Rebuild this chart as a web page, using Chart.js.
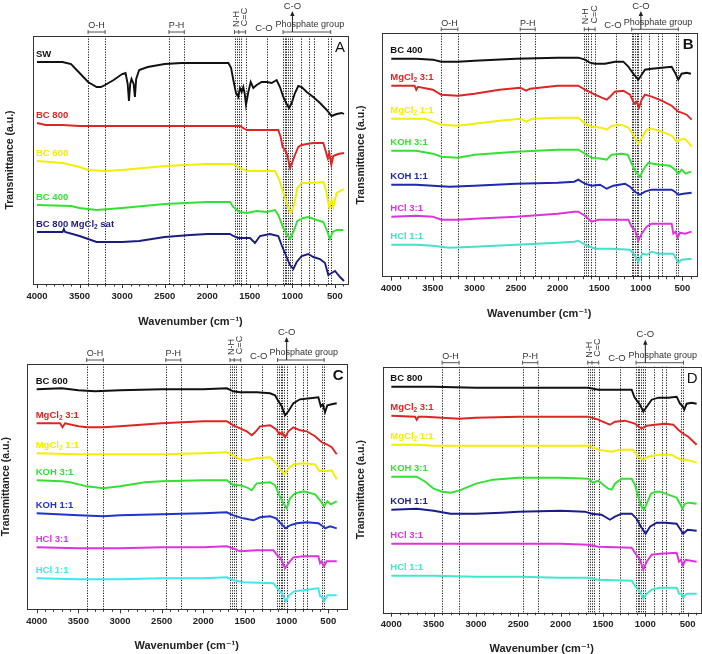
<!DOCTYPE html>
<html>
<head>
<meta charset="utf-8">
<script src="https://cdn.jsdelivr.net/npm/chart.js@4.4.1/dist/chart.umd.min.js"></script>
<style>
  html, body { margin: 0; padding: 0; background: #fff; overflow: hidden; }
  body { width: 702px; height: 654px; position: relative; }
  canvas { position: absolute; }
</style>
</head>
<body>
<canvas id="painel_a"></canvas>
<canvas id="painel_b"></canvas>
<canvas id="painel_c"></canvas>
<canvas id="painel_d"></canvas>
<script>
// ticks do eixo x (numero de onda, cm-1)
const ticksMaiores = [4000, 3500, 3000, 2500, 2000, 1500, 1000, 500];
const ticksMenores = [];
for (let v = 4000; v >= 400; v -= 100) ticksMenores.push(v);

// linhas pontilhadas verticais das bandas
const linhasBandas = [3400, 3200, 2450, 2270, 1680, 1655, 1630, 1605, 1550, 1300,
    1110, 1090, 1070, 1050, 1030, 1000, 900, 800, 750, 580, 550];

// painel A
const nomesA = ['SW', 'BC 800', 'BC 600', 'BC 400', 'BC 800 MgCl₂ sat'];
const aSW = [[4000,222],[3700,222],[3600,220],[3500,211],[3400,202],[3300,197],[3250,197],[3200,199],[3100,204],[3000,210],[2960,211],[2935,200],[2920,183],[2905,200],[2890,205],[2865,200],[2850,187],[2835,205],[2800,214],[2700,217],[2500,220],[2300,221],[1800,221],[1752,221],[1720,216],[1694,204],[1663,191],[1636,187],[1616,196],[1596,192],[1577,197],[1560,190],[1545,179],[1518,192],[1490,202],[1459,196],[1420,199],[1361,202],[1302,202],[1243,201],[1185,204],[1146,197],[1107,187],[1067,180],[1040,176],[1008,181],[970,191],[931,198],[891,197],[832,192],[755,187],[676,181],[597,174],[539,168],[480,170],[421,171],[394,170]];
const aBC800 = [[4000,161],[3900,159],[3700,159],[3500,158],[3000,158],[2500,158],[2000,158],[1700,158],[1616,158],[1560,155],[1537,154],[1400,154],[1166,154],[1138,147],[1115,137],[1087,134],[1060,129],[1028,116],[1005,121],[970,129],[931,137],[891,139],[832,140],[755,141],[637,141],[606,132],[586,126],[567,131],[543,119],[520,128],[461,130],[394,131]];
const aBC600 = [[4000,123],[3700,121],[3500,117],[3400,114],[3200,113],[3000,114],[2500,118],[2000,120],[1694,120],[1616,116],[1537,113],[1205,113],[1154,104],[1107,91],[1060,79],[1020,71],[981,79],[942,96],[891,101],[793,101],[637,102],[606,94],[567,76],[539,84],[520,77],[480,91],[394,95]];
const aBC400 = [[4000,79],[3600,78],[3500,76],[3300,74],[3000,76],[2500,80],[2000,82],[1733,82],[1694,77],[1616,72],[1537,71],[1420,73],[1302,72],[1205,74],[1166,69],[1107,56],[1060,49],[1028,45],[989,52],[942,63],[872,66],[813,67],[715,64],[637,62],[597,54],[559,45],[527,52],[480,54],[402,54]];
const aMgSat = [[4000,52],[3700,52],[3685,55],[3670,52],[3500,48],[3300,42],[3000,42],[2800,43],[2500,47],[2200,49],[2000,50],[1733,50],[1694,48],[1636,46],[1498,46],[1440,41],[1381,48],[1264,50],[1166,48],[1127,39],[1088,31],[1028,19],[989,15],[950,22],[891,28],[813,30],[754,27],[676,25],[617,21],[578,9],[539,11],[500,13],[441,7],[394,3]];

// painel B
const nomesB = ['BC 400', 'MgCl₂ 3:1', 'MgCl₂ 1:1', 'KOH 3:1', 'KOH 1:1', 'HCl 3:1', 'HCl 1:1'];
const bBC400 = [[4000,218],[3700,218],[3500,217],[3400,215],[3200,215],[3000,216],[2500,218],[2000,219],[1752,219],[1672,217],[1612,214],[1552,213],[1431,213],[1311,215],[1211,215],[1151,210],[1091,203],[1031,197],[991,202],[951,207],[870,208],[750,209],[630,210],[590,204],[550,197],[510,203],[450,204],[398,203]];
const bMg31 = [[4000,191],[3720,191],[3700,187],[3680,190],[3500,187],[3400,182],[3200,181],[3000,183],[2700,187],[2450,189],[2380,186],[2330,188],[2000,191],[1752,191],[1672,187],[1552,182],[1471,179],[1411,177],[1371,180],[1311,185],[1211,186],[1131,182],[1079,173],[1051,175],[1023,169],[991,177],[951,182],[870,180],[750,176],[630,171],[550,165],[510,164],[450,162],[390,157]];
const bMg11 = [[4000,158],[3600,158],[3500,155],[3400,152],[3200,151],[3000,153],[2700,156],[2450,158],[2380,155],[2300,158],[2000,159],[1752,159],[1672,153],[1592,150],[1471,149],[1411,147],[1351,151],[1231,152],[1151,149],[1091,142],[1031,133],[983,140],[931,147],[870,148],[750,145],[630,141],[570,135],[530,137],[470,138],[390,130]];
const bKOH31 = [[4000,126],[3700,126],[3500,123],[3400,120],[3200,119],[3000,122],[2500,125],[2000,127],[1752,127],[1672,123],[1592,119],[1471,118],[1411,117],[1351,122],[1231,123],[1159,122],[1111,113],[1063,105],[1011,100],[971,107],[911,114],[851,113],[771,112],[651,111],[590,107],[550,103],[510,107],[462,103],[398,105]];
const bKOH11 = [[4000,92],[3700,92],[3500,91],[3300,90],[3000,91],[2500,93],[2000,94],[1800,95],[1752,97],[1672,93],[1592,91],[1491,92],[1411,88],[1331,91],[1191,93],[1131,90],[1071,85],[1011,82],[951,85],[870,87],[630,87],[590,85],[550,82],[490,83],[390,84]];
const bHCl31 = [[4000,60],[3700,61],[3500,60],[3400,57],[3200,57],[3000,58],[2500,60],[2000,63],[1800,65],[1752,65],[1672,61],[1592,55],[1511,57],[1351,57],[1151,57],[1111,50],[1071,47],[1031,36],[991,43],[931,50],[870,53],[630,53],[610,43],[582,45],[558,39],[530,44],[470,43],[390,45]];
const bHCl11 = [[4000,32],[3700,32],[3500,31],[3300,29],[3000,30],[2500,32],[2000,34],[1800,35],[1752,36],[1672,32],[1552,28],[1351,28],[1131,27],[1079,22],[1031,15],[983,23],[931,22],[870,25],[790,23],[610,23],[550,14],[510,17],[390,18]];

// painel C
const nomesC = ['BC 600', 'MgCl₂ 3:1', 'MgCl₂ 1:1', 'KOH 3:1', 'KOH 1:1', 'HCl 3:1', 'HCl 1:1'];
const cBC600 = [[4000,220],[3700,221],[3500,219],[3300,218],[3000,219],[2500,220],[2000,220],[1719,221],[1640,218],[1560,217],[1359,217],[1199,216],[1139,214],[1099,208],[1059,203],[1019,194],[979,198],[919,206],[839,210],[719,211],[619,212],[590,203],[566,205],[539,197],[511,204],[459,205],[399,206]];
const cMg31 = [[4000,186],[3720,186],[3690,182],[3660,186],[3500,183],[3400,182],[3200,182],[3000,183],[2500,186],[2000,188],[1719,188],[1640,184],[1560,181],[1480,178],[1419,174],[1379,177],[1319,183],[1199,184],[1127,180],[1087,175],[1055,177],[1019,172],[979,178],[919,182],[839,179],[759,178],[659,173],[579,167],[519,165],[459,162],[399,155]];
const cMg11 = [[4000,156],[3500,155],[3300,155],[3000,155],[2500,155],[2000,156],[1719,157],[1640,154],[1560,150],[1480,149],[1359,151],[1199,152],[1127,146],[1079,140],[1027,135],[979,141],[919,145],[799,146],[659,145],[607,138],[566,139],[519,138],[459,139],[399,130]];
const cKOH31 = [[4000,129],[3700,128],[3600,127],[3400,123],[3200,121],[3000,123],[2700,127],[2500,128],[2000,129],[1719,129],[1640,124],[1560,124],[1480,122],[1419,119],[1359,126],[1199,127],[1139,124],[1087,114],[1039,106],[999,101],[959,111],[899,116],[799,118],[659,115],[599,109],[551,103],[511,108],[471,105],[399,108]];
const cKOH11 = [[4000,96],[3500,94],[3200,93],[3000,94],[2500,95],[2000,96],[1719,97],[1640,94],[1520,91],[1399,89],[1319,92],[1199,93],[1127,91],[1071,86],[1011,81],[959,84],[879,86],[759,87],[619,86],[566,83],[539,81],[479,83],[399,81]];
const cHCl31 = [[4000,62],[3500,61],[3000,61],[2500,62],[2000,62],[1719,63],[1640,61],[1560,58],[1359,59],[1159,59],[1111,54],[1071,51],[1019,41],[979,46],[919,52],[799,53],[619,53],[599,46],[579,48],[551,43],[519,48],[399,48]];
const cHCl11 = [[4000,31],[3500,30],[3000,30],[2500,31],[2000,31],[1719,32],[1640,29],[1520,27],[1159,26],[1111,21],[1059,16],[1011,8],[971,14],[911,18],[799,19],[619,21],[599,13],[566,12],[551,8],[511,14],[399,14]];

// painel D
const nomesD = ['BC 800', 'MgCl₂ 3:1', 'MgCl₂ 1:1', 'KOH 3:1', 'KOH 1:1', 'HCl 3:1', 'HCl 1:1'];
const dBC800 = [[4000,226],[3500,226],[3000,225],[2500,225],[2000,225],[1674,225],[1556,223],[1320,223],[1161,223],[1131,216],[1091,211],[1063,208],[1024,201],[984,206],[925,213],[847,215],[729,215],[630,216],[591,209],[564,207],[540,203],[512,209],[453,210],[394,209]];
const dMg31 = [[4000,197],[3720,196],[3700,193],[3680,196],[3600,196],[3400,195],[3200,194],[3000,195],[2500,196],[2000,196],[1674,196],[1556,193],[1477,190],[1418,188],[1359,191],[1241,192],[1123,189],[1044,184],[984,187],[886,188],[768,189],[670,188],[611,183],[552,179],[493,176],[394,168]];
const dMg11 = [[4000,168],[3700,168],[3500,167],[3000,167],[2500,167],[2000,167],[1674,167],[1556,163],[1398,161],[1300,163],[1143,163],[1083,156],[1024,153],[965,156],[847,158],[690,158],[630,155],[571,153],[512,153],[394,150]];
const dKOH31 = [[4000,136],[3700,136],[3600,131],[3500,124],[3400,121],[3300,120],[3200,122],[3000,129],[2800,133],[2500,135],[2000,135],[1674,134],[1615,130],[1556,132],[1497,128],[1438,124],[1398,123],[1359,129],[1280,134],[1162,134],[1123,128],[1083,116],[1044,106],[1016,103],[984,109],[933,119],[886,121],[827,121],[729,118],[630,115],[591,109],[564,104],[532,109],[485,110],[394,109]];
const dKOH11 = [[4000,103],[3700,104],[3500,102],[3300,99],[3000,99],[2700,100],[2500,101],[2000,102],[1713,101],[1635,99],[1517,98],[1418,93],[1359,96],[1280,99],[1162,99],[1103,94],[1052,86],[996,79],[945,86],[866,90],[768,90],[630,89],[591,84],[552,79],[501,83],[394,82]];
const dHCl31 = [[4000,69],[3500,69],[3000,69],[2500,69],[2000,69],[1674,68],[1556,66],[1162,65],[1115,59],[1063,53],[1024,43],[984,51],[925,58],[827,59],[630,60],[602,51],[579,53],[556,47],[524,53],[394,51]];
const dHCl11 = [[4000,37],[3500,37],[3000,36],[2500,36],[2000,35],[1674,35],[1556,33],[1162,32],[1115,26],[1063,21],[1024,14],[984,19],[925,23],[827,25],[630,25],[602,19],[571,19],[552,15],[512,19],[394,19]];

const fonte = "'Liberation Sans', Arial, 'DejaVu Sans', sans-serif";

const paineis = [
    { id: 'painel_a', letra: 'A', negrito: false, series: [aSW, aBC800, aBC600, aBC400, aMgSat], nomes: nomesA,
      cores: ['#111111', '#e02424', '#f2ee00', '#35e035', '#1c1c80'],
      pos: { left: 0, top: 0, w: 351, h: 329 }, pad: { left: 0, right: 3, top: 36, bottom: 0 },
      yw: 33, xh: 45, tickPad: 7, tituloY: 4, xmin: 347, xmax: 4047, ymax: 248 },
    { id: 'painel_b', letra: 'B', negrito: true, series: [bBC400, bMg31, bMg11, bKOH31, bKOH11, bHCl31, bHCl11], nomes: nomesB,
      cores: ['#111111', '#e02424', '#f2ee00', '#35e035', '#1e28b0', '#dd33dd', '#44e0cc'],
      pos: { left: 351, top: 0, w: 351, h: 321 }, pad: { left: 0, right: 5.3, top: 33.3, bottom: 0 },
      yw: 30.7, xh: 44.3, tickPad: 6, tituloY: 4, xmin: 329, xmax: 4115, ymax: 243.4 },
    { id: 'painel_c', letra: 'C', negrito: true, series: [cBC600, cMg31, cMg11, cKOH31, cKOH11, cHCl31, cHCl11], nomes: nomesC,
      cores: ['#111111', '#e02424', '#f2ee00', '#35e035', '#2233cc', '#dd33dd', '#40e6f0'],
      pos: { left: 0, top: 320, w: 351, h: 334 }, pad: { left: 0, right: 4.3, top: 44, bottom: 1.2 },
      yw: 26.7, xh: 43.5, tickPad: 6, tituloY: 0, xmin: 279, xmax: 4120, ymax: 245.3 },
    { id: 'painel_d', letra: 'D', negrito: false, series: [dBC800, dMg31, dMg11, dKOH31, dKOH11, dHCl31, dHCl11], nomes: nomesD,
      cores: ['#111111', '#e02424', '#f2ee00', '#35e035', '#1c1c8c', '#dd33dd', '#40e8c8'],
      pos: { left: 351, top: 320, w: 351, h: 336 }, pad: { left: 0, right: 1.3, top: 46.7, bottom: 0.2 },
      yw: 31.7, xh: 43.1, tickPad: 5.7, tituloY: 4, xmin: 346, xmax: 4102, ymax: 246 }
];

function linha(ctx, x1, y1, x2, y2) {
    ctx.beginPath();
    ctx.moveTo(x1, y1);
    ctx.lineTo(x2, y2);
    ctx.stroke();
}

// texto com subscrito (MgCl2)
function textoRotulo(ctx, texto, x, y, tam) {
    const partes = texto.split('₂');
    let px = x;
    partes.forEach((p, i) => {
        ctx.font = `bold ${tam}px ${fonte}`;
        ctx.fillText(p, px, y);
        px += ctx.measureText(p).width;
        if (i < partes.length - 1) {
            ctx.font = `bold ${tam - 3}px ${fonte}`;
            ctx.fillText('2', px, y + 3);
            px += ctx.measureText('2').width;
        }
    });
}

function colchete(ctx, x1, x2, y) {
    linha(ctx, x1, y, x2, y);
    linha(ctx, x1, y - 2, x1, y + 2);
    linha(ctx, x2, y - 2, x2, y + 2);
}

function pluginAnotacoes(p) {
    return {
        id: 'anotacoes_' + p.letra,
        beforeDatasetsDraw(chart) {
            const { ctx, chartArea: ca, scales: { x } } = chart;
            ctx.save();
            ctx.strokeStyle = '#1a1a1a';
            ctx.lineWidth = 1;
            ctx.setLineDash([1.2, 1.4]);
            linhasBandas.forEach(v => {
                const px = Math.round(x.getPixelForValue(v)) + 0.5;
                linha(ctx, px, ca.top, px, ca.bottom);
            });
            ctx.restore();
        },
        afterDatasetsDraw(chart) {
            const { ctx, chartArea: ca, scales: { x, y } } = chart;
            const fx = v => x.getPixelForValue(v);
            const topo = ca.top;
            ctx.save();

            // caixa do grafico
            ctx.strokeStyle = '#333';
            ctx.lineWidth = 1;
            ctx.strokeRect(Math.round(ca.left) + 0.5, Math.round(ca.top) + 0.5,
                Math.round(ca.right - ca.left), Math.round(ca.bottom - ca.top));

            // marcas do eixo x
            ticksMenores.forEach(v => {
                const px = Math.round(fx(v)) + 0.5;
                const comp = v % 500 === 0 ? 4 : 2.5;
                linha(ctx, px, ca.bottom, px, ca.bottom + comp);
            });

            // grupos funcionais
            ctx.strokeStyle = '#555';
            ctx.fillStyle = '#333';
            ctx.font = `9px ${fonte}`;
            ctx.textAlign = 'center';
            ctx.textBaseline = 'middle';
            const yc = topo - 4;
            colchete(ctx, fx(3400), fx(3200), yc);
            ctx.fillText('O-H', fx(3300), topo - 10);
            colchete(ctx, fx(2450), fx(2270), yc);
            ctx.fillText('P-H', fx(2360), topo - 10);
            colchete(ctx, fx(1680), fx(1550), yc);
            linha(ctx, fx(1630), yc - 2, fx(1630), yc + 2);
            ctx.font = `9.5px ${fonte}`;
            ctx.fillText('C-O', fx(1300) - 3, topo - 8);
            ctx.font = `9px ${fonte}`;
            colchete(ctx, fx(1110), fx(550), yc);
            ctx.fillText('Phosphate group', fx(795), topo - 11);

            // rotulos girados
            [['N-H', 1662, 17], ['C=C', 1560, 19]].forEach(([t, v, dy]) => {
                ctx.save();
                ctx.translate(fx(v), topo - dy);
                ctx.rotate(-Math.PI / 2);
                ctx.fillText(t, 0, 0);
                ctx.restore();
            });

            // seta C-O (o texto nao pode sair do topo da tela)
            const xs = fx(1000);
            const yTexto = Math.max(topo - 32, 6);
            ctx.strokeStyle = '#222';
            linha(ctx, xs, yc, xs, yTexto + 8);
            ctx.fillStyle = '#222';
            ctx.beginPath();
            ctx.moveTo(xs, yTexto + 5);
            ctx.lineTo(xs - 2.2, yTexto + 10);
            ctx.lineTo(xs + 2.2, yTexto + 10);
            ctx.closePath();
            ctx.fill();
            ctx.fillStyle = '#333';
            ctx.font = `9.5px ${fonte}`;
            ctx.fillText('C-O', xs, yTexto);

            // nomes das amostras
            ctx.textAlign = 'left';
            p.series.forEach((s, i) => {
                ctx.fillStyle = p.cores[i];
                const px = fx(s[0][0]) - 1;
                const py = y.getPixelForValue(s[0][1]) - 8;
                textoRotulo(ctx, p.nomes[i], px, py, 9.5);
            });

            // letra do painel
            ctx.fillStyle = '#111';
            ctx.textAlign = 'right';
            ctx.font = `${p.negrito ? 'bold ' : ''}15px ${fonte}`;
            ctx.fillText(p.letra, ca.right - 3, topo + 12);
            ctx.restore();
        }
    };
}

paineis.forEach(p => {
    const tela = document.getElementById(p.id);
    tela.width = p.pos.w;
    tela.height = p.pos.h;
    tela.style.left = p.pos.left + 'px';
    tela.style.top = p.pos.top + 'px';
    tela.style.width = p.pos.w + 'px';
    tela.style.height = p.pos.h + 'px';

    new Chart(tela.getContext('2d'), {
        type: 'line',
        data: {
            datasets: p.series.map((s, i) => ({
                label: p.nomes[i],
                data: s.map(([x, y]) => ({ x, y })),
                borderColor: p.cores[i],
                borderWidth: 1.9,
                pointRadius: 0,
                tension: 0,
                fill: false
            }))
        },
        options: {
            responsive: false,
            animation: false,
            devicePixelRatio: 1,
            layout: { padding: p.pad },
            plugins: {
                legend: { display: false },
                tooltip: { enabled: false }
            },
            scales: {
                x: {
                    type: 'linear',
                    reverse: true,
                    min: p.xmin,
                    max: p.xmax,
                    afterBuildTicks: s => { s.ticks = ticksMaiores.map(v => ({ value: v })); },
                    afterFit: s => { s.height = p.xh; },
                    grid: { display: false, drawTicks: false },
                    border: { display: false },
                    ticks: {
                        autoSkip: false,
                        maxRotation: 0,
                        padding: p.tickPad,
                        color: '#222',
                        font: { family: fonte, size: 9.5, weight: 'bold' },
                        callback: v => String(v)
                    },
                    title: {
                        display: true,
                        text: 'Wavenumber (cm⁻¹)',
                        color: '#222',
                        padding: { top: 0, bottom: 0 },
                        font: { family: fonte, size: 11, weight: 'bold' }
                    }
                },
                y: {
                    min: 0,
                    max: p.ymax,
                    afterFit: s => { s.width = p.yw; },
                    grid: { display: false, drawTicks: false },
                    border: { display: false },
                    ticks: { display: false },
                    title: {
                        display: true,
                        text: 'Transmittance (a.u.)',
                        color: '#222',
                        padding: { top: p.tituloY, bottom: 0 },
                        font: { family: fonte, size: 10.5, weight: 'bold' }
                    }
                }
            }
        },
        plugins: [pluginAnotacoes(p)]
    });
});
</script>
</body>
</html>
